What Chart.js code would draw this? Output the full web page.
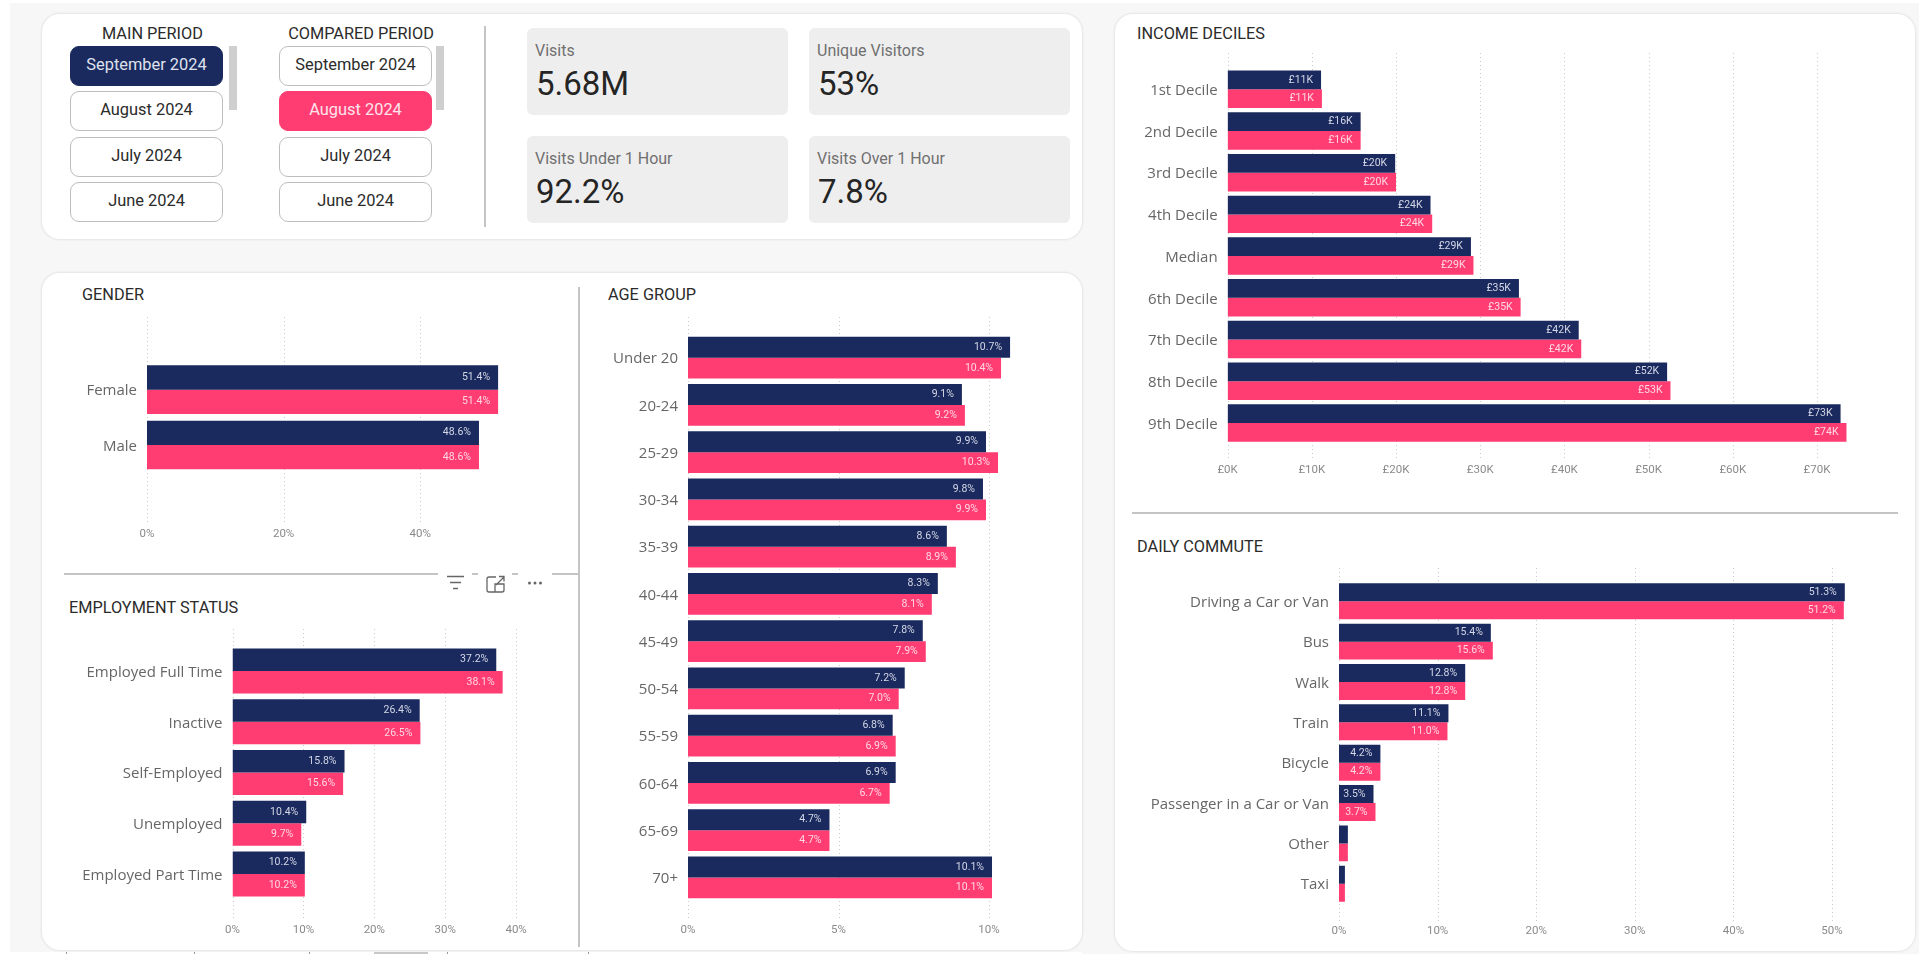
<!DOCTYPE html>
<html>
<head>
<meta charset="utf-8">
<title>Visitor profile</title>
<script src="https://cdn.jsdelivr.net/npm/chart.js@4"></script>
<style>
  html, body { margin: 0; padding: 0; background: #fff; }
  body { width: 1919px; height: 954px; position: relative; overflow: hidden; font-family: Roboto, sans-serif; color: #222; }
  .abs { position: absolute; }
  #bg { left: 10px; top: 3px; width: 1909px; height: 951px; background: #f7f7f7; }
  .card { background: #fff; border-radius: 18px; box-shadow: 0 0 2px 1px #e4e4e4; }
  .head { font-size: 16.3px; line-height: 20px; white-space: nowrap; color: #2b2b2b; }
  .btn { width: 151px; height: 38px; line-height: 36px; border: 1px solid #bdbdbd; border-radius: 9px; background: #fff;
    text-align: center; font-size: 16.4px; color: #2b2b2b; }
  .btn.main { background: #1b2a5e; border-color: #1b2a5e; color: #dfe2ee; }
  .btn.comp { background: #ff3d73; border-color: #ff3d73; color: #ffe4ec; }
  .bar { width: 8px; height: 64px; background: #cfcfcf; }
  .kpi { background: #eeeeee; border-radius: 6px; width: 261px; height: 87px; }
  .kpi .lab { position: absolute; left: 8px; top: 13px; font-size: 16px; line-height: 20px; color: #707070; }
  .kpi .val { position: absolute; left: 9px; top: 36px; font-size: 33px; line-height: 40px; color: #252525; }
  .rule { background: #c4c4c4; }
  canvas { display: block; }
</style>
</head>
<body>
<div class="abs" id="bg"></div>
<div class="abs card" style="left:42px;top:14px;width:1040px;height:225px"></div>
<div class="abs card" style="left:42px;top:273px;width:1040px;height:677px"></div>
<div class="abs card" style="left:1115px;top:14px;width:800px;height:937px"></div>
<div id="ui"></div>

<div class="abs" style="left:50px;top:305px;width:520px;height:243px"><canvas id="gender"></canvas></div>
<div class="abs" style="left:50px;top:620px;width:520px;height:322px"><canvas id="employment"></canvas></div>
<div class="abs" style="left:585px;top:315px;width:480px;height:627px"><canvas id="age"></canvas></div>
<div class="abs" style="left:1120px;top:45px;width:780px;height:445px"><canvas id="income"></canvas></div>
<div class="abs" style="left:1120px;top:560px;width:780px;height:385px"><canvas id="commute"></canvas></div>

<script>
var periods = ["September 2024", "August 2024", "July 2024", "June 2024"];
var kpiLabels = ["Visits", "Unique Visitors", "Visits Under 1 Hour", "Visits Over 1 Hour"];
var kpiValues = ["5.68M", "53%", "92.2%", "7.8%"];

var genderLabels = ["Female", "Male"];
var genderMain = [51.4, 48.6];
var genderCompared = [51.4, 48.6];

var employmentLabels = ["Employed Full Time", "Inactive", "Self-Employed", "Unemployed", "Employed Part Time"];
var employmentMain = [37.2, 26.4, 15.8, 10.4, 10.2];
var employmentCompared = [38.1, 26.5, 15.6, 9.7, 10.2];

var ageLabels = ["Under 20", "20-24", "25-29", "30-34", "35-39", "40-44", "45-49", "50-54", "55-59", "60-64", "65-69", "70+"];
var ageMain = [10.7, 9.1, 9.9, 9.8, 8.6, 8.3, 7.8, 7.2, 6.8, 6.9, 4.7, 10.1];
var ageCompared = [10.4, 9.2, 10.3, 9.9, 8.9, 8.1, 7.9, 7.0, 6.9, 6.7, 4.7, 10.1];

var incomeLabels = ["1st Decile", "2nd Decile", "3rd Decile", "4th Decile", "Median", "6th Decile", "7th Decile", "8th Decile", "9th Decile"];
var incomeMain = [11.1, 15.8, 19.9, 24.1, 28.9, 34.6, 41.7, 52.2, 72.8];
var incomeCompared = [11.2, 15.8, 20.0, 24.3, 29.2, 34.8, 42.0, 52.6, 73.5];

var commuteLabels = ["Driving a Car or Van", "Bus", "Walk", "Train", "Bicycle", "Passenger in a Car or Van", "Other", "Taxi"];
var commuteMain = [51.3, 15.4, 12.8, 11.1, 4.2, 3.5, 0.9, 0.6];
var commuteCompared = [51.2, 15.6, 12.8, 11.0, 4.2, 3.7, 0.9, 0.6];

var NAVY = "#1b2a5e";
var PINK = "#ff3d73";

// page furniture, not chart marks
function put(cls, style, text) {
  var d = document.createElement("div");
  d.className = "abs " + cls;
  d.style.cssText = style;
  if (text) d.textContent = text;
  document.getElementById("ui").appendChild(d);
  return d;
}

put("head", "left:102px;top:24px;width:100px;text-align:center", "MAIN PERIOD");
put("head", "left:286px;top:24px;width:150px;text-align:center", "COMPARED PERIOD");
var btnTops = [46, 91, 137, 182];
periods.forEach(function (p, i) {
  put("btn" + (i == 0 ? " main" : ""), "left:70px;top:" + btnTops[i] + "px", p);
  put("btn" + (i == 1 ? " comp" : ""), "left:279px;top:" + btnTops[i] + "px", p);
});
put("bar", "left:229px;top:46px");
put("bar", "left:436px;top:46px");
put("rule", "left:484px;top:26px;width:2px;height:201px");

var kpiPos = [[527, 28], [809, 28], [527, 136], [809, 136]];
kpiLabels.forEach(function (l, i) {
  var k = put("kpi", "left:" + kpiPos[i][0] + "px;top:" + kpiPos[i][1] + "px");
  k.innerHTML = '<div class="lab">' + l + '</div><div class="val">' + kpiValues[i] + "</div>";
});

put("head", "left:82px;top:285px", "GENDER");
put("head", "left:69px;top:598px", "EMPLOYMENT STATUS");
put("head", "left:608px;top:285px", "AGE GROUP");
put("head", "left:1137px;top:24px", "INCOME DECILES");
put("head", "left:1137px;top:537px", "DAILY COMMUTE");

put("rule", "left:578px;top:287px;width:2px;height:660px");
put("rule", "left:64px;top:573px;width:374px;height:2px");
put("rule", "left:552px;top:573px;width:26px;height:2px");
put("rule", "left:472px;top:573px;width:6px;height:2px");
put("rule", "left:512px;top:573px;width:6px;height:2px");
put("rule", "left:1132px;top:512px;width:766px;height:2px");

var icons = put("", "left:440px;top:572px;width:110px;height:24px");
icons.innerHTML = '<svg width="110" height="24" fill="none" stroke="#666" stroke-width="1.3">' +
  '<path d="M7 4.5h17M10 10.5h11M13 16.5h5"/>' +
  '<path d="M56 5h-7a2 2 0 0 0-2 2v11a2 2 0 0 0 2 2h13a2 2 0 0 0 2-2v-6h-9v8M56 13l8-8M59 4.5h5v5"/>' +
  '<g fill="#666" stroke="none"><circle cx="89.5" cy="11" r="1.5"/><circle cx="95" cy="11" r="1.5"/><circle cx="100.5" cy="11" r="1.5"/></g>' +
  "</svg>";

// the cut-off edge along the bottom of the left part of the page
put("", "left:10px;top:952px;width:1072px;height:2px;background:#fff");
[66, 194, 309, 447, 588].forEach(function (x) {
  put("", "left:" + x + "px;top:952px;width:1px;height:2px;background:#999");
});
put("", "left:374px;top:952px;width:54px;height:2px;background:#c8c8c8");

// dotted vertical grid that runs past the bar band, like the original visuals
var dottedGrid = {
  id: "dottedGrid",
  beforeDatasetsDraw: function (chart, args, opts) {
    var ctx = chart.ctx;
    var xScale = chart.scales.x;
    ctx.save();
    ctx.strokeStyle = "#c9c9c9";
    ctx.lineWidth = 1;
    ctx.setLineDash([1, 3]);
    xScale.ticks.forEach(function (t) {
      var px = Math.round(xScale.getPixelForValue(t.value)) + 0.5;
      ctx.beginPath();
      ctx.moveTo(px, opts.top);
      ctx.lineTo(px, opts.bottom);
      ctx.stroke();
    });
    ctx.restore();
  }
};

// value labels inside the bar end
var barLabels = {
  id: "barLabels",
  afterDatasetsDraw: function (chart, args, opts) {
    var ctx = chart.ctx;
    ctx.save();
    ctx.font = "10.5px Roboto";
    ctx.textAlign = "right";
    ctx.textBaseline = "middle";
    chart.data.datasets.forEach(function (ds, di) {
      ctx.fillStyle = di == 0 ? "#d3d7e6" : "#ffd6e2";
      chart.getDatasetMeta(di).data.forEach(function (bar, i) {
        if (ds.data[i] < opts.minValue) return;
        ctx.fillText(opts.format(ds.data[i]), bar.x - 8, bar.y);
      });
    });
    ctx.restore();
  }
};

function pct1(v) { return v.toFixed(1) + "%"; }

// p: left/top/bottom are offsets of the plot inside the canvas wrapper
function barChart(id, labels, main, compared, p) {
  var axisHeight = p.tickPad + 18; // labels get clipped to the scale box, so it has to hold them
  return new Chart(document.getElementById(id), {
    type: "bar",
    data: {
      labels: labels,
      datasets: [
        { data: main, backgroundColor: NAVY, categoryPercentage: p.catPct, barPercentage: 1 },
        { data: compared, backgroundColor: PINK, categoryPercentage: p.catPct, barPercentage: 1 }
      ]
    },
    plugins: [dottedGrid, barLabels],
    options: {
      indexAxis: "y",
      responsive: true,
      maintainAspectRatio: false,
      animation: false,
      layout: { padding: { top: p.top, bottom: p.bottom - axisHeight, left: 0, right: p.right } },
      scales: {
        x: {
          min: 0,
          max: p.max,
          grid: { display: false, drawTicks: false },
          border: { display: false },
          afterFit: function (s) { s.height = axisHeight; },
          ticks: {
            stepSize: p.step,
            includeBounds: false,
            maxRotation: 0,
            padding: p.tickPad,
            color: "#8a8a8a",
            font: { family: "Roboto", size: 11.5 },
            callback: p.tick
          }
        },
        y: {
          grid: { display: false, drawTicks: false },
          border: { display: false },
          afterFit: function (s) { s.width = p.left; },
          ticks: { autoSkip: false, padding: 10, labelOffset: 1.5, color: "#666", font: { family: "Open Sans", size: 15 } }
        }
      },
      plugins: {
        legend: { display: false },
        tooltip: { enabled: false },
        dottedGrid: { top: p.gridTop, bottom: p.gridBottom },
        barLabels: { minValue: p.minLabel || 0, format: p.format }
      }
    }
  });
}

function pctTick(v) { return v + "%"; }

barChart("gender", genderLabels, genderMain, genderCompared, {
  left: 97, top: 57, bottom: 75.4, right: 520 - 97 - 375.7, max: 55, step: 20, catPct: 0.879,
  tickPad: 54.5, gridTop: 12, gridBottom: 217, tick: pctTick, format: pct1
});
barChart("employment", employmentLabels, employmentMain, employmentCompared, {
  left: 182.5, top: 25.6, bottom: 42.6, right: 520 - 182.5 - 297.8, max: 42, step: 10, catPct: 0.883,
  tickPad: 23.7, gridTop: 9, gridBottom: 300, tick: pctTick, format: pct1
});
barChart("age", ageLabels, ageMain, ageCompared, {
  left: 103, top: 17, bottom: 41, right: 480 - 103 - 331.1, max: 11, step: 5, catPct: 0.886,
  tickPad: 22, gridTop: 2, gridBottom: 605, tick: pctTick, format: pct1
});
barChart("income", incomeLabels, incomeMain, incomeCompared, {
  left: 107.6, top: 23.4, bottom: 46.2, right: 780 - 107.6 - 631.5, max: 75, step: 10, catPct: 0.898,
  tickPad: 19.3, gridTop: 8, gridBottom: 413,
  tick: function (v) { return "£" + v + "K"; },
  format: function (v) { return "£" + Math.round(v) + "K"; }
});
barChart("commute", commuteLabels, commuteMain, commuteCompared, {
  left: 219, top: 21.1, bottom: 41.1, right: 780 - 219 - 512.7, max: 52, step: 10, catPct: 0.892,
  tickPad: 20.2, gridTop: 8, gridBottom: 361.7, tick: pctTick, format: pct1, minLabel: 2
});
</script>
</body>
</html>
